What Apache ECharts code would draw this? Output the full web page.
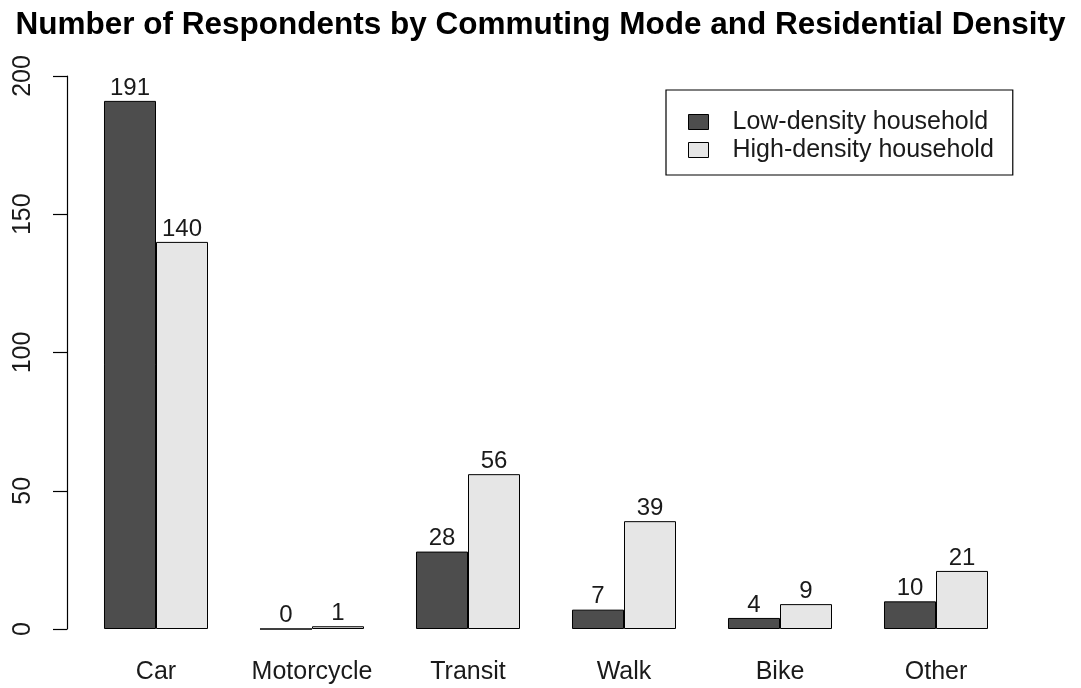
<!DOCTYPE html>
<html><head><meta charset="utf-8">
<script src="https://cdn.jsdelivr.net/npm/echarts@6/dist/echarts.min.js"></script>
<style>html,body{margin:0;padding:0;background:#fff}#c{width:1081px;height:688px}</style>
</head><body><div id="c"></div>
<script>
const categories = ["Car","Motorcycle","Transit","Walk","Bike","Other"];
const lowDensity = [191, 0, 28, 7, 4, 10];
const highDensity = [140, 1, 56, 39, 9, 21];
const seriesNames = ["Low-density household","High-density household"];
const yTicks = [0, 50, 100, 150, 200];

const FONT = '"Liberation Sans", Arial, sans-serif';
const chart = echarts.init(document.getElementById('c'), null, {renderer:'canvas'});
const labelCfg = {show:true, position:'top', distance:1, fontSize:24, color:'#1a1a1a', fontFamily:FONT};
chart.setOption({
  animation:false,
  backgroundColor:'#fff',
  title:{text:'Number of Respondents by Commuting Mode and Residential Density', left:'center', top:4,
    textStyle:{fontSize:31.5, fontWeight:'bold', color:'#000', fontFamily:FONT}},
  legend:{orient:'vertical', left:666, top:90, borderColor:'#000', borderWidth:1.2,
    padding:[18,19,11,22], itemWidth:20, itemHeight:15, itemGap:0, icon:'rect',
    textStyle:{fontSize:25, lineHeight:28, color:'#1a1a1a', fontFamily:FONT, padding:[0,0,0,19]},
    data:seriesNames.map(n=>({name:n, itemStyle:{borderColor:'#000', borderWidth:1}}))},
  grid:{left:78, right:67, top:76, bottom:59},
  xAxis:{type:'category', data:categories, axisLine:{show:false}, axisTick:{show:false},
    axisLabel:{interval:0, hideOverlap:false, fontSize:25, color:'#1a1a1a', margin:31, fontFamily:FONT}},
  yAxis:{type:'value', min:yTicks[0], max:yTicks[yTicks.length-1], interval:50, offset:11,
    axisLine:{show:true, lineStyle:{color:'#000', width:1.2}},
    axisTick:{show:true, length:14, lineStyle:{color:'#000', width:1.2}},
    splitLine:{show:false},
    axisLabel:{rotate:90, fontSize:25, color:'#1a1a1a', margin:31, fontFamily:FONT}},
  series:[
    {name:seriesNames[0], type:'bar', data:lowDensity, barGap:'0%', barCategoryGap:'33.333%',
      itemStyle:{color:'#4d4d4d', borderColor:'#000', borderWidth:1}, label:labelCfg},
    {name:seriesNames[1], type:'bar', data:highDensity, barGap:'0%', barCategoryGap:'33.333%',
      itemStyle:{color:'#e6e6e6', borderColor:'#000', borderWidth:1}, label:labelCfg}
  ]
});
</script></body></html>
